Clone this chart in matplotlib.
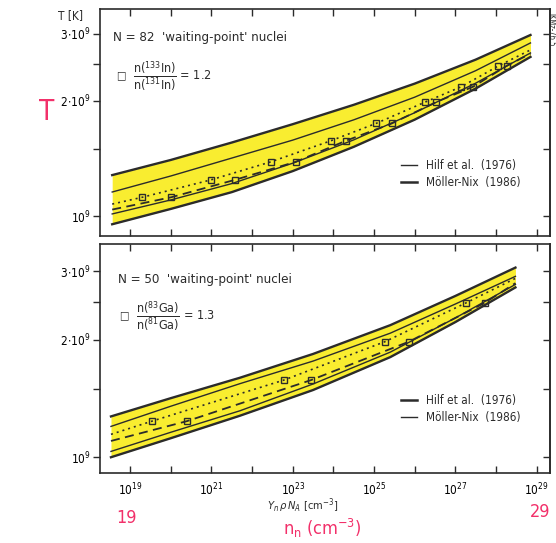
#!/usr/bin/python3
#encoding-utf8

# Neutron density exponents, log10(Y_n rho N_A / cm^-3), and temperatures
# in units of 10^9 K.

# N = 82: the four solid curves bounding the band.
LOGN_82 = [18.56, 20.0, 21.5, 23.0, 24.5, 26.0, 27.5, 28.85]
T82_OUTER_UP = [1.280, 1.402, 1.557, 1.739, 1.954, 2.220, 2.565, 2.976]
T82_INNER_UP = [1.156, 1.273, 1.418, 1.580, 1.785, 2.046, 2.400, 2.837]
T82_INNER_LOW = [1.013, 1.102, 1.216, 1.375, 1.582, 1.863, 2.226, 2.671]
T82_OUTER_LOW = [0.952, 1.044, 1.155, 1.311, 1.517, 1.787, 2.155, 2.608]
# N = 82: dotted and dashed curves, inner points are the ratio = 1.2 squares.
LOGN_82_DOT = [18.56, 19.30, 20.98, 22.46, 23.94, 25.05, 26.26, 27.15, 28.06, 28.85]
T82_DOT = [1.075, 1.12, 1.243, 1.386, 1.574, 1.747, 1.987, 2.18, 2.47, 2.72]
LOGN_82_DASH = [18.56, 20.01, 21.57, 23.07, 24.31, 25.44, 26.53, 27.44, 28.26, 28.85]
T82_DASH = [1.04, 1.12, 1.243, 1.386, 1.574, 1.747, 1.987, 2.18, 2.47, 2.66]

# N = 50: the four solid curves bounding the band.
LOGN_50 = [18.53, 20.0, 21.7, 23.5, 25.4, 27.0, 28.48]
T50_OUTER_UP = [1.272, 1.417, 1.599, 1.841, 2.183, 2.595, 3.07]
T50_INNER_UP = [1.199, 1.351, 1.544, 1.765, 2.082, 2.474, 2.915]
T50_INNER_LOW = [1.034, 1.158, 1.315, 1.541, 1.861, 2.278, 2.779]
T50_OUTER_LOW = [0.999, 1.118, 1.277, 1.487, 1.807, 2.223, 2.730]
# N = 50: dotted and dashed curves, inner points are the ratio = 1.3 squares.
LOGN_50_DOT = [18.53, 19.54, 22.78, 25.27, 27.26, 28.48]
T50_DOT = [1.144, 1.237, 1.577, 1.98, 2.49, 2.88]
LOGN_50_DASH = [18.53, 20.40, 23.45, 25.86, 27.72, 28.48]
T50_DASH = [1.10, 1.237, 1.577, 1.98, 2.49, 2.80]

# Axis ticks.
X_DECADES = list(range(19, 30))
Y_TICKS = [1, 2, 3]
Y_LABELS = [r'$10^9$', r'$2\!\cdot\!10^9$', r'$3\!\cdot\!10^9$']
Y_MINOR = [1.5, 2.5]

W, H = 556, 543
INK = '#2b2b2b'
HIGHLIGHT = '#f9ed30'
PEN = '#f2306a'


def px(x, y):
    """
    Figure fraction of a pixel position measured from the top left.
    """
    return x / W, 1 - y / H


def dens(logn):
    return [10.0 ** v for v in logn]


def style_axis(ax, ylim, xlabels):
    """
    Log-log frame with plotter-style ticks.
    """
    ax.set_xscale('log')
    ax.set_yscale('log')
    ax.set_xlim(10 ** 18.26, 10 ** 29.33)
    ax.set_ylim(*ylim)
    ax.set_xticks([10.0 ** k for k in X_DECADES])
    ax.xaxis.set_minor_locator(ticker.NullLocator())
    if xlabels:
        ax.set_xticklabels([r'$10^{%d}$' % k if k % 2 else '' for k in X_DECADES])
    else:
        ax.set_xticklabels([])
    ax.set_yticks(Y_TICKS)
    ax.set_yticklabels(Y_LABELS)
    ax.set_yticks(Y_MINOR, minor=True)
    ax.yaxis.set_minor_formatter(ticker.NullFormatter())
    ax.tick_params(axis='x', which='both', direction='in', top=True,
                   length=5, width=1.0, color=INK, labelsize=8.5, pad=6)
    ax.tick_params(axis='y', which='both', direction='out', length=5,
                   width=1.0, color=INK, labelsize=8.5, pad=2)
    # Inward ticks on the right edge.
    right = ax.secondary_yaxis('right')
    right.set_yticks(Y_TICKS + Y_MINOR)
    right.set_yticklabels([])
    right.tick_params(direction='in', length=5, width=1.0, color=INK)
    right.yaxis.set_minor_locator(ticker.NullLocator())
    for side in list(ax.spines.values()) + [right.spines['right']]:
        side.set_linewidth(1.2)
        side.set_color(INK)


def draw_band(ax, logn, outer_up, inner_up, inner_low, outer_low,
              logn_dot, t_dot, logn_dash, t_dash):
    """
    Highlighted band, its four solid edges and the two ratio curves.
    """
    x = dens(logn)
    ax.fill_between(x, outer_up, outer_low, color=HIGHLIGHT, lw=0, zorder=1)
    ax.plot(x, outer_up, color=INK, lw=1.7, zorder=3)
    ax.plot(x, inner_up, color=INK, lw=1.0, zorder=3)
    ax.plot(x, inner_low, color=INK, lw=1.0, zorder=3)
    ax.plot(x, outer_low, color=INK, lw=1.7, zorder=3)
    ax.plot(dens(logn_dot), t_dot, color=INK, lw=1.2, ls=(0, (1.2, 2.4)),
            marker='s', markevery=slice(1, -1), ms=5, mfc='none', mec=INK,
            mew=1.0, zorder=4)
    ax.plot(dens(logn_dash), t_dash, color=INK, lw=1.3, ls=(0, (5, 3)),
            marker='s', markevery=slice(1, -1), ms=5, mfc='none', mec=INK,
            mew=1.0, zorder=4)


def add_key(ax, thick_hilf, loc_y):
    """
    Line key for the two mass models.
    """
    hilf = Line2D([], [], color=INK, lw=1.8 if thick_hilf else 1.0)
    moller = Line2D([], [], color=INK, lw=1.0 if thick_hilf else 1.8)
    ax.legend([hilf, moller], ['Hilf et al.  (1976)', 'Möller-Nix  (1986)'],
              loc='upper left', bbox_to_anchor=(0.645, loc_y), frameon=False,
              handlelength=1.4, handletextpad=0.7, labelspacing=0.35,
              fontsize=8.5)


def main():
    fig = plt.figure(figsize=(W / 100, H / 100), dpi=100)
    l, r = 100 / W, 550 / W
    top = fig.add_axes([l, 1 - 236 / H, r - l, 227 / H])
    bot = fig.add_axes([l, 1 - 473 / H, r - l, 229 / H])

    # N = 82 panel.
    style_axis(top, (0.887, 3.48), xlabels=False)
    draw_band(top, LOGN_82, T82_OUTER_UP, T82_INNER_UP, T82_INNER_LOW,
              T82_OUTER_LOW, LOGN_82_DOT, T82_DOT, LOGN_82_DASH, T82_DASH)
    add_key(top, thick_hilf=False, loc_y=0.385)
    fig.text(*px(113, 38), "N = 82  'waiting-point' nuclei",
             ha='left', va='center', fontsize=9.5)
    fig.text(*px(121, 75), '□', ha='center', va='center', fontsize=8)
    fig.text(*px(133, 76),
             r'$\dfrac{\mathrm{n}(^{133}\mathrm{In})}'
             r'{\mathrm{n}(^{131}\mathrm{In})}$ = 1.2',
             ha='left', va='center', fontsize=9)

    # N = 50 panel.
    style_axis(bot, (0.91, 3.53), xlabels=True)
    draw_band(bot, LOGN_50, T50_OUTER_UP, T50_INNER_UP, T50_INNER_LOW,
              T50_OUTER_LOW, LOGN_50_DOT, T50_DOT, LOGN_50_DASH, T50_DASH)
    add_key(bot, thick_hilf=True, loc_y=0.39)
    fig.text(*px(118, 279), "N = 50  'waiting-point' nuclei",
             ha='left', va='center', fontsize=9.5)
    fig.text(*px(124, 315), '□', ha='center', va='center', fontsize=8)
    fig.text(*px(136, 316),
             r'$\dfrac{\mathrm{n}(^{83}\mathrm{Ga})}'
             r'{\mathrm{n}(^{81}\mathrm{Ga})}$ = 1.3',
             ha='left', va='center', fontsize=9)

    # Axis titles and plate mark.
    fig.text(*px(70, 16), 'T [K]', ha='center', va='center', fontsize=8.5)
    fig.text(*px(303, 506), r'$Y_n\,\rho\,N_A$ [cm$^{-3}$]',
             ha='center', va='center', fontsize=8)
    fig.text(*px(551, 30), 'IKMz-76.5', ha='center', va='center',
             fontsize=5.5, rotation=-90)

    # Handwritten notes.
    fig.text(*px(47, 112), 'T', color=PEN, ha='center', va='center',
             fontsize=20, fontweight='light')
    fig.text(*px(126, 518), '19', color=PEN, ha='center', va='center',
             fontsize=13)
    fig.text(*px(540, 512), '29', color=PEN, ha='center', va='center',
             fontsize=13)
    fig.text(*px(322, 528), r'$\mathregular{n_n}$ (cm$^{\mathregular{-3}}$)',
             color=PEN, ha='center', va='center', fontsize=13)

    fig.savefig('out.png', dpi=100)


if(__name__ == '__main__'):
    import matplotlib
    matplotlib.use('Agg')
    import matplotlib.pyplot as plt
    from matplotlib import ticker
    from matplotlib.lines import Line2D

    plt.rcParams['font.family'] = ['DejaVu Sans']
    plt.rcParams['font.stretch'] = 'condensed'
    plt.rcParams['text.color'] = INK

    main()
